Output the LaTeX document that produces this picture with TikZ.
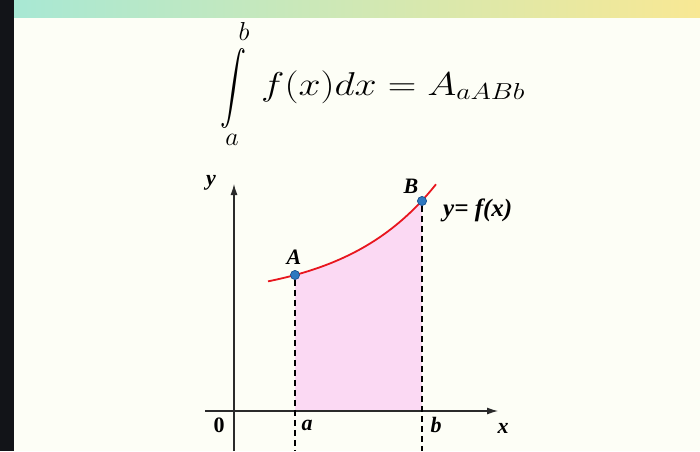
\RequirePackage{fix-cm}
\documentclass[tikz,border=0pt]{standalone}
\usepackage{fontspec}
\setmainfont{Liberation Serif}
\usepackage{graphicx}
\usetikzlibrary{arrows.meta}
\definecolor{bgc}{HTML}{FDFEF6}
\definecolor{stripc}{HTML}{121418}
\definecolor{barL}{HTML}{A8E8D4}
\definecolor{barR}{HTML}{F8E894}
\definecolor{pinkc}{HTML}{FBD9F3}
\definecolor{ptfill}{HTML}{2E78C0}
\definecolor{ptdraw}{HTML}{1F5590}
\definecolor{axisc}{HTML}{2A2A2A}
\definecolor{curvec}{HTML}{E8161E}
\tikzset{
  axisline/.style={draw=axisc, line width=1.1pt, -{Latex[length=11pt,width=7pt]}},
  dashline/.style={draw=black, line width=1.6pt, dash pattern=on 6pt off 4pt},
  ptstyle/.style={circle, fill=ptfill, draw=ptdraw, line width=0.6pt, inner sep=0pt, minimum size=9pt},
  lab/.style={font=\fontsize{22}{22}\selectfont\bfseries\itshape, inner sep=0pt},
  labup/.style={font=\fontsize{22}{22}\selectfont\bfseries, inner sep=0pt},
}
\begin{document}
\begin{tikzpicture}[x=1pt,y=-1pt]
\useasboundingbox (0,0) rectangle (700,451);
\fill[bgc] (0,0) rectangle (700,451);
\fill[stripc] (0,0) rectangle (14,451);
\shade[left color=barL, right color=barR] (14,0) rectangle (700,17);

% formula
\node[inner sep=0pt] (int) at (233,88) {\scalebox{2.6}[3.6]{$\displaystyle\int$}};
\node[inner sep=0pt] (ub) at (244,31) {\fontsize{26}{26}\selectfont$b$};
\node[inner sep=0pt] (lb) at (232,140) {\fontsize{26}{26}\selectfont$a$};
\node[anchor=base west, inner sep=0pt] (eq) at (261,95) {\fontsize{33}{33}\selectfont\scalebox{1.2}[1]{$f(x)dx = A_{aABb}$}};

% region
\fill[pinkc] (295,411) -- plot[domain=295:422, samples=50] (\x,{300-25*exp((\x-295)/92)}) -- (422,411) -- cycle;

% axes
\coordinate (xs) at (205,411);
\coordinate (xe) at (498,411);
\coordinate (ys) at (234,451);
\coordinate (ye) at (234,184);
\draw[axisline] (xs) -- (xe);
\draw[axisline] (ys) -- (ye);

% points
\coordinate (Ab) at (295,451);
\coordinate (Bb) at (422,451);
\node[ptstyle] (A) at (295,275) {};
\node[ptstyle] (B) at (422,201) {};
\draw[dashline] (A) -- (Ab);
\draw[dashline] (B) -- (Bb);

% curve
\draw[curvec, line width=1.8pt] plot[domain=268:436, samples=60] (\x,{300-25*exp((\x-295)/92)});
\node[ptstyle] at (A) {};
\node[ptstyle] at (B) {};

% labels
\node[lab] (ylab) at (211,183) {y};
\node[lab] (xlab) at (503,428) {x};
\node[labup] (zero) at (219,425) {0};
\node[lab] (alab) at (307,425) {a};
\node[lab] (blab) at (436,425) {b};
\node[lab] (Alab) at (294,257) {A};
\node[lab] (Blab) at (411,186) {B};
\node[lab, anchor=west, font=\fontsize{25}{25}\selectfont\bfseries\itshape] (flab) at (443,210) {y= f(x)};
\end{tikzpicture}
\end{document}
